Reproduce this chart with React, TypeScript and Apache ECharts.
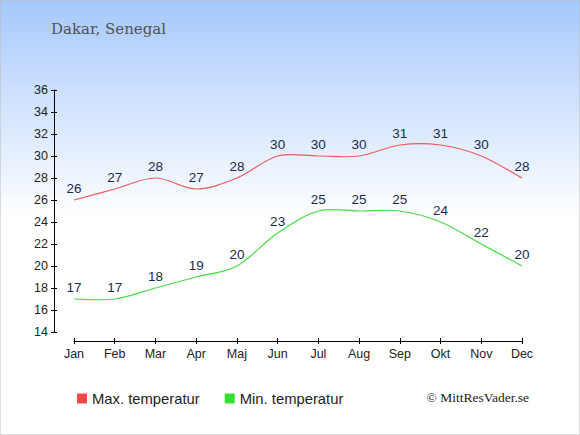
import React, { useEffect, useRef } from "react";
import * as echarts from "echarts";

const months = ["Jan", "Feb", "Mar", "Apr", "Maj", "Jun", "Jul", "Aug", "Sep", "Okt", "Nov", "Dec"];
const maxTemp = [26, 27, 28, 27, 28, 30, 30, 30, 31, 31, 30, 28];
const minTemp = [17, 17, 18, 19, 20, 23, 25, 25, 25, 24, 22, 20];
const seriesNames = ["Max. temperatur", "Min. temperatur"];
const titleText = "Dakar, Senegal";
const creditText = "© MittResVader.se";

const SANS = "'Liberation Sans', Arial, sans-serif";

function curveSeries(values: number[], color: string) {
  return {
    type: "custom",
    silent: true,
    xAxisIndex: 0,
    yAxisIndex: 0,
    data: values.map((v, i) => [i, v]),
    renderItem: (params: any, api: any) => {
      const i = params.dataIndex;
      if (i >= values.length - 1) return null;
      const p = (k: number) => {
        const kk = Math.max(0, Math.min(values.length - 1, k));
        return api.coord([kk, values[kk]]);
      };
      const p0 = p(i - 1);
      const p1 = p(i);
      const p2 = p(i + 1);
      const p3 = p(i + 2);
      const t = 6;
      return {
        type: "bezierCurve",
        shape: {
          x1: p1[0],
          y1: p1[1],
          x2: p2[0],
          y2: p2[1],
          cpx1: p1[0] + (p2[0] - p0[0]) / t,
          cpy1: p1[1] + (p2[1] - p0[1]) / t,
          cpx2: p2[0] - (p3[0] - p1[0]) / t,
          cpy2: p2[1] - (p3[1] - p1[1]) / t,
        },
        style: { stroke: color, lineWidth: 1.2, fill: "none" },
      };
    },
  };
}

export default function App() {
  const ref = useRef<HTMLDivElement>(null);
  useEffect(() => {
    document.body.style.margin = "0";
    const chart = echarts.init(ref.current!, undefined, { renderer: "svg" });
    const yCommon = { type: "value", min: 14, max: 36, interval: 2, position: "left", offset: 20 };
    const xCommon = { type: "category", data: months, boundaryGap: false, position: "bottom", offset: 9 };
    const labelStyle = { show: true, position: "top", distance: 5, fontFamily: SANS, fontSize: 13.5, color: "#1c2b4a" };
    chart.setOption({
      animation: false,
      graphic: [
        {
          type: "rect",
          z: -10,
          silent: true,
          shape: { x: 0, y: 0, width: 580, height: 435 },
          style: {
            fill: new echarts.graphic.LinearGradient(0, 0, 0, 1, [
              { offset: 0, color: "#a6c8fc" },
              { offset: 0.5, color: "#ffffff" },
              { offset: 1, color: "#ffffff" },
            ]),
            stroke: "#bbbbbb",
            lineWidth: 1,
          },
        },
        {
          type: "text",
          left: 51,
          top: 21,
          style: { text: titleText, font: "15px 'DejaVu Serif', serif", fill: "#505050" },
        },
        {
          type: "text",
          right: 51,
          top: 390,
          style: { text: creditText, font: "13.5px 'Liberation Serif', serif", fill: "#222222" },
        },
      ],
      grid: { left: 74, right: 58, top: 90, bottom: 103, outerBoundsMode: "none" },
      legend: {
        left: 77,
        top: 391,
        padding: 0,
        itemWidth: 10,
        itemHeight: 10,
        itemGap: 25,
        icon: "rect",
        textStyle: { fontFamily: SANS, fontSize: 14.8, color: "#222222" },
        data: seriesNames,
      },
      xAxis: [
        {
          ...xCommon,
          axisLine: { show: true, lineStyle: { color: "#000000", width: 1 } },
          axisTick: { show: true, length: 3, inside: false, lineStyle: { color: "#000000" } },
          axisLabel: { fontFamily: SANS, fontSize: 12.5, color: "#222222", margin: 6 },
          splitLine: { show: false },
        },
        {
          ...xCommon,
          axisLine: { show: false },
          axisTick: { show: true, length: 3, inside: true, lineStyle: { color: "#000000" } },
          axisLabel: { show: false },
          splitLine: { show: false },
        },
      ],
      yAxis: [
        {
          ...yCommon,
          axisLine: { show: true, lineStyle: { color: "#000000", width: 1 } },
          axisTick: { show: true, length: 3, inside: false, lineStyle: { color: "#000000" } },
          axisLabel: { fontFamily: SANS, fontSize: 12.5, color: "#222222", margin: 6 },
          splitLine: { show: false },
        },
        {
          ...yCommon,
          axisLine: { show: false },
          axisTick: { show: true, length: 3, inside: true, lineStyle: { color: "#000000" } },
          axisLabel: { show: false },
          splitLine: { show: false },
        },
      ],
      series: [
        {
          name: seriesNames[0],
          type: "line",
          data: maxTemp,
          symbol: "circle",
          symbolSize: 0,
          showSymbol: true,
          itemStyle: { color: "#f04848", shadowColor: "rgba(0,0,0,0.3)", shadowOffsetX: 1, shadowOffsetY: 1 },
          lineStyle: { width: 0, opacity: 0 },
          label: labelStyle,
          z: 3,
        },
        {
          name: seriesNames[1],
          type: "line",
          data: minTemp,
          symbol: "circle",
          symbolSize: 0,
          showSymbol: true,
          itemStyle: { color: "#33e033", shadowColor: "rgba(0,0,0,0.3)", shadowOffsetX: 1, shadowOffsetY: 1 },
          lineStyle: { width: 0, opacity: 0 },
          label: labelStyle,
          z: 3,
        },
        curveSeries(maxTemp, "#ee5a5a"),
        curveSeries(minTemp, "#44dd44"),
      ],
    });
    return () => chart.dispose();
  }, []);
  return <div ref={ref} style={{ width: 580, height: 435 }} />;
}
